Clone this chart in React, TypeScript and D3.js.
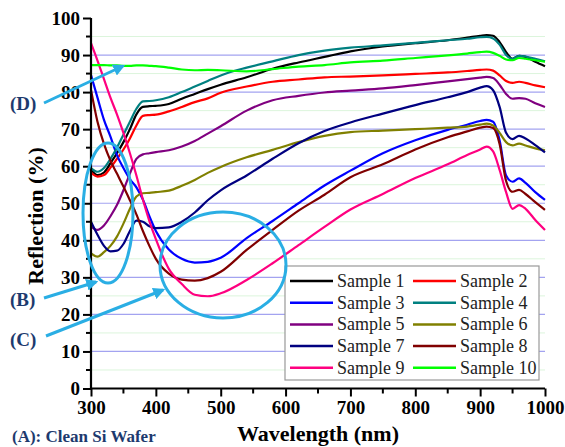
import React, { useEffect, useRef } from "react";
import * as d3 from "d3";

// wavelength grid (nm) shared by all samples
const wavelengths = [300, 310, 320, 330, 340, 350, 360, 370, 380, 390, 400, 420, 440, 460, 480, 500, 540, 580, 620, 660, 700, 750, 800, 850, 880, 900, 910, 920, 930, 940, 950, 960, 970, 985, 1000];

const sample1 = [59, 57.6, 58.3, 60.8, 63.5, 66.5, 70, 74, 76, 76.2, 76.3, 76.8, 78.2, 79.5, 80.8, 82, 84, 86.3, 88, 89.5, 91, 92.3, 93.2, 94, 94.7, 95.2, 95.4, 95.2, 93.5, 90.8, 89, 89.8, 89.5, 88.2, 87];
const sample2 = [58.3, 57.2, 57.6, 59.6, 62, 64.5, 67.5, 71, 73.6, 73.8, 73.9, 74.8, 76, 77.3, 78.3, 79.8, 81.5, 82.8, 83.4, 84, 84.2, 84.5, 84.9, 85.3, 85.7, 86, 86.1, 85.8, 84.5, 83, 82.5, 82.8, 82.5, 81.8, 81.3];
const sample3 = [84.6, 78.5, 72.5, 68, 63, 59.5, 56.5, 54.3, 51, 46.5, 42.5, 37.5, 35, 34, 34.2, 35.3, 40.6, 45.2, 50, 54.8, 58.8, 63.5, 67, 69.8, 71.2, 72.2, 72.5, 72, 67, 57.5, 55.8, 56.7, 55.5, 53, 50.9];
const sample4 = [59.5, 58.5, 59.5, 62, 65, 68.5, 72, 75.5, 77.5, 77.6, 77.8, 78.6, 80, 81.5, 83, 84.5, 86.6, 88.3, 90, 91.2, 92, 92.6, 93.3, 94, 94.4, 94.8, 94.9, 94.5, 92.8, 90, 89, 89.8, 89.6, 89, 88.3];
const sample5 = [43.7, 42.8, 44, 46.5, 49.5, 53.5, 58, 62, 63.2, 63.5, 63.8, 64.3, 65.3, 66.8, 68.8, 70.8, 75, 77.8, 79, 79.9, 80.4, 81, 81.9, 82.9, 83.5, 83.9, 84.1, 83.8, 82, 79.5, 78.2, 78.4, 78.2, 77, 76];
const sample6 = [36.5, 35.6, 36.8, 38.5, 41, 44.5, 48.5, 51.8, 52.7, 52.8, 53, 53.4, 54.7, 56.3, 58.2, 59.8, 62.4, 64.4, 66.5, 68.2, 69.2, 69.6, 70, 70.4, 70.7, 71.2, 71.5, 71, 69, 66.5, 65.6, 66.1, 65.6, 64.8, 64.3];
const sample7 = [45, 41.5, 38.5, 37, 37.2, 39, 42.5, 45.3, 45, 43.8, 43.3, 43.5, 45, 47.5, 50.8, 53.5, 57.5, 62, 66.2, 69.5, 71.8, 74.2, 76.5, 78.6, 80, 81.2, 81.6, 80.5, 76, 69, 67.3, 68.2, 67.5, 65.7, 63.7];
const sample8 = [80.6, 72, 66, 61.5, 58, 54.5, 50.8, 47, 42.5, 38.5, 35, 31, 29.4, 29.1, 29.8, 31.5, 37.4, 42.8, 48, 52.3, 57, 60.5, 64.5, 67.8, 69.4, 70.4, 70.7, 70.3, 66, 56, 53.1, 53.6, 52.5, 50.3, 48.2];
const sample9 = [93.2, 88.5, 83.5, 78.5, 74, 69, 63.5, 57.5, 51, 45.2, 40.3, 32.3, 28.2, 25.3, 24.9, 25.7, 29.3, 33.8, 38.7, 43.6, 48.3, 52.5, 56.8, 60.5, 63, 64.5, 65.3, 64, 59, 53, 48.5, 49.5, 48.5, 45.5, 42.8];
const sample10 = [87.3, 87.3, 87.3, 87.2, 87.2, 87.1, 87.1, 87.2, 87.2, 87.1, 87, 86.6, 86.1, 85.9, 86, 85.9, 85.6, 86.2, 86.9, 87.3, 88, 88.5, 89.2, 89.9, 90.4, 90.8, 90.9, 90.6, 89.8, 88.8, 88.6, 89.2, 89, 88.6, 88.2];

const sampleNames = ["Sample 1", "Sample 2", "Sample 3", "Sample 4", "Sample 5", "Sample 6", "Sample 7", "Sample 8", "Sample 9", "Sample 10"];
const sampleColors = ["#000000", "#ff0000", "#0000ff", "#008080", "#800080", "#808000", "#000080", "#800000", "#ff0080", "#00ff00"];
const allSamples = [sample1, sample2, sample3, sample4, sample5, sample6, sample7, sample8, sample9, sample10];

const xTicks = [300, 400, 500, 600, 700, 800, 900, 1000];
const yTicks = [0, 10, 20, 30, 40, 50, 60, 70, 80, 90, 100];

const W = 565;
const H = 447;
const serif = "'Liberation Serif', 'Times New Roman', serif";
const annoBlue = "#2aaee4";
const annoText = "#1d3a6e";

export default function App() {
  const ref = useRef<SVGSVGElement>(null);

  useEffect(() => {
    const svg = d3.select(ref.current);
    svg.selectAll("*").remove();

    const x = d3.scaleLinear().domain([300, 1000]).range([91, 545]);
    const y = d3.scaleLinear().domain([0, 100]).range([388.5, 18]);

    /* grid */
    const grid = svg.append("g");
    d3.range(5, 100, 10).forEach(v => {
      grid.append("line").attr("x1", x(300)).attr("x2", x(1000))
        .attr("y1", y(v)).attr("y2", y(v))
        .attr("stroke", "#dcf5dc").attr("stroke-width", 1);
    });
    d3.range(10, 100, 10).forEach(v => {
      grid.append("line").attr("x1", x(300)).attr("x2", x(1000))
        .attr("y1", y(v)).attr("y2", y(v))
        .attr("stroke", "#a3a3f0").attr("stroke-width", 1.2);
    });

    /* lines */
    const line = d3.line<number>()
      .x((d, i) => x(wavelengths[i]))
      .y(d => y(d))
      .curve(d3.curveMonotoneX);

    svg.append("g").selectAll("path")
      .data(allSamples).enter()
      .append("path")
      .attr("d", d => line(d))
      .attr("fill", "none")
      .attr("stroke", (d, i) => sampleColors[i])
      .attr("stroke-width", 2.2)
      .attr("stroke-linejoin", "round");

    /* axes */
    const xAxis = d3.axisBottom(x).tickValues(xTicks).tickSize(8).tickPadding(4).tickFormat(d3.format("d"));
    const yAxis = d3.axisLeft(y).tickValues(yTicks).tickSize(8).tickPadding(3);

    const gx = svg.append("g").attr("transform", `translate(0, ${y(0)})`).call(xAxis);
    const gy = svg.append("g").attr("transform", `translate(${x(300)}, 0)`).call(yAxis);

    // minor ticks
    gx.selectAll(".minor").data(d3.range(350, 1000, 100)).enter()
      .append("line").attr("x1", d => x(d)).attr("x2", d => x(d))
      .attr("y1", 0).attr("y2", 5).attr("stroke", "#000").attr("stroke-width", 2);
    gy.selectAll(".minor").data(d3.range(5, 100, 10)).enter()
      .append("line").attr("y1", d => y(d)).attr("y2", d => y(d))
      .attr("x1", 0).attr("x2", -5).attr("stroke", "#000").attr("stroke-width", 2);

    [gx, gy].forEach(g => {
      g.select(".domain").attr("stroke", "#000").attr("stroke-width", 2.2);
      g.selectAll(".tick line").attr("stroke", "#000").attr("stroke-width", 2);
      g.selectAll("text").attr("font-family", serif).attr("font-weight", "bold")
        .attr("font-size", 19).attr("fill", "#000");
    });
    gx.select(".domain").attr("d", `M${x(300)},0H${x(1000)}`);
    gy.select(".domain").attr("d", `M0,${y(0)}V${y(100)}`);

    svg.append("text").attr("x", 318).attr("y", 441)
      .attr("text-anchor", "middle").attr("font-family", serif)
      .attr("font-weight", "bold").attr("font-size", 22).text("Wavelength (nm)");

    svg.append("text").attr("transform", "translate(43, 216) rotate(-90)")
      .attr("text-anchor", "middle").attr("font-family", serif)
      .attr("font-weight", "bold").attr("font-size", 22).text("Reflection (%)");

    /* legend */
    const lg = svg.append("g");
    lg.append("rect").attr("x", 285).attr("y", 266).attr("width", 254).attr("height", 114)
      .attr("fill", "#fff").attr("stroke", "#999").attr("stroke-width", 1.2);
    sampleNames.forEach((name, i) => {
      const col = i % 2;
      const row = Math.floor(i / 2);
      const lx = col === 0 ? 290 : 413;
      const ly = 281 + row * 21.7;
      lg.append("line").attr("x1", lx).attr("x2", lx + 43).attr("y1", ly).attr("y2", ly)
        .attr("stroke", sampleColors[i]).attr("stroke-width", 2.5);
      lg.append("text").attr("x", lx + 47).attr("y", ly + 6)
        .attr("font-family", serif).attr("font-size", 18).attr("fill", "#222").text(name);
    });

    /* annotations */
    const defs = svg.append("defs");
    defs.append("marker").attr("id", "arr").attr("viewBox", "0 0 10 10")
      .attr("refX", 8).attr("refY", 5).attr("markerWidth", 4).attr("markerHeight", 4)
      .attr("orient", "auto")
      .append("path").attr("d", "M0,0L10,5L0,10z").attr("fill", annoBlue);

    const an = svg.append("g");
    an.append("ellipse").attr("cx", 108).attr("cy", 213).attr("rx", 25).attr("ry", 70)
      .attr("fill", "none").attr("stroke", annoBlue).attr("stroke-width", 3);
    an.append("ellipse").attr("cx", 223).attr("cy", 265).attr("rx", 63).attr("ry", 53)
      .attr("fill", "none").attr("stroke", annoBlue).attr("stroke-width", 3);

    const arrows = [
      [44, 103, 123, 66],
      [44, 298, 96, 282],
      [46, 336, 163, 290],
    ];
    arrows.forEach(a => {
      an.append("line").attr("x1", a[0]).attr("y1", a[1]).attr("x2", a[2]).attr("y2", a[3])
        .attr("stroke", annoBlue).attr("stroke-width", 3).attr("marker-end", "url(#arr)");
    });

    const labels = [["(D)", 10, 110], ["(B)", 10, 306], ["(C)", 10, 346]];
    labels.forEach(l => {
      an.append("text").attr("x", l[1]).attr("y", l[2]).attr("font-family", serif)
        .attr("font-weight", "bold").attr("font-size", 19).attr("fill", annoText).text(l[0] as string);
    });
    an.append("text").attr("x", 12).attr("y", 442).attr("font-family", serif)
      .attr("font-weight", "bold").attr("font-size", 17).attr("fill", annoText).text("(A): Clean Si Wafer");
  }, []);

  return (
    <svg ref={ref} width={W} height={H} style={{ position: "absolute", left: 0, top: 0, background: "#fff" }} />
  );
}
